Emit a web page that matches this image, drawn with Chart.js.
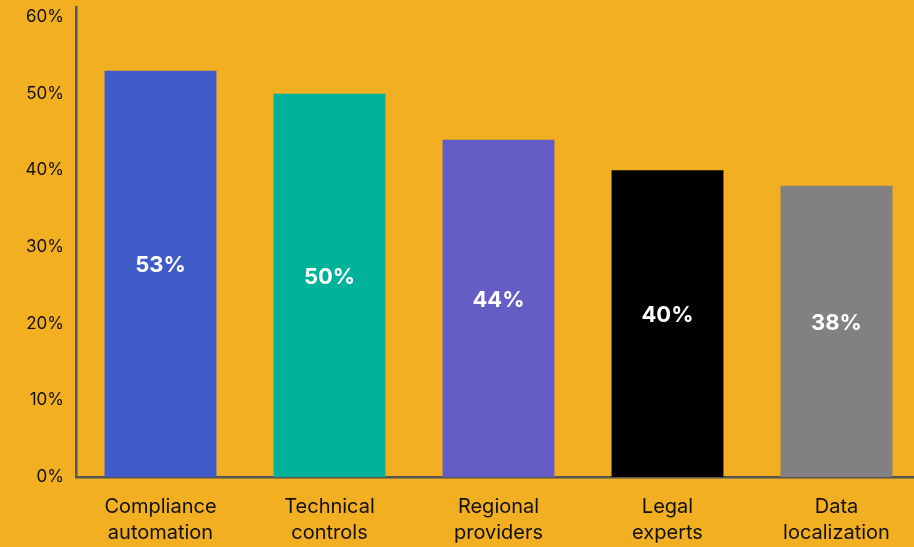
<!DOCTYPE html>
<html>
<head>
<meta charset="utf-8">
<script src="https://cdn.jsdelivr.net/npm/chart.js@4"></script>
<style>
  html, body { margin: 0; padding: 0; background: #F2AF22; overflow: hidden; }
  #wrap { width: 914px; height: 547px; overflow: hidden; }
</style>
</head>
<body>
<div id="wrap"><canvas id="channelChart" width="930" height="547"></canvas></div>
<script>
const categories = [
  ["Compliance", "automation"],
  ["Technical", "controls"],
  ["Regional", "providers"],
  ["Legal", "experts"],
  ["Data", "localization"]
];
const shares = [53, 50, 44, 40, 38];
const barColors = ["#405CC8", "#00B29A", "#655DC6", "#000000", "#818181"];
const yTicks = [0, 10, 20, 30, 40, 50, 60];

const fontFamily = "Inter, 'Noto Sans', sans-serif";

// writes the percentage in the middle of each bar
const barValueLabels = {
  id: "barValueLabels",
  afterDatasetsDraw(chart) {
    const ctx = chart.ctx;
    const meta = chart.getDatasetMeta(0);
    ctx.save();
    ctx.fillStyle = "#ffffff";
    ctx.font = "bold 22px " + fontFamily;
    ctx.textAlign = "center";
    ctx.textBaseline = "middle";
    meta.data.forEach((bar, i) => {
      const mid = (bar.y + bar.base) / 2;
      ctx.fillText(shares[i] + "%", bar.x, mid - 8);
    });
    ctx.restore();
  }
};

const ctx = document.getElementById("channelChart").getContext("2d");
new Chart(ctx, {
  type: "bar",
  data: {
    labels: categories,
    datasets: [
      {
        data: shares,
        backgroundColor: barColors,
        borderWidth: 0,
        barPercentage: 0.662,
        categoryPercentage: 1.0
      }
    ]
  },
  options: {
    responsive: false,
    animation: false,
    devicePixelRatio: 1,
    layout: { padding: { top: 7, right: 9, left: 0, bottom: 0 } },
    plugins: {
      legend: { display: false },
      tooltip: { enabled: false }
    },
    scales: {
      x: {
        grid: { display: false, drawTicks: false },
        border: { display: true, color: "#555555", width: 2.5 },
        ticks: {
          color: "#111111",
          font: { family: fontFamily, size: 20, lineHeight: 1.3 },
          padding: 17,
          maxRotation: 0,
          autoSkip: false
        },
        afterFit(scale) { scale.height = 70; }
      },
      y: {
        min: 0,
        max: 61.3,
        grid: { display: false, drawTicks: false },
        border: { display: true, color: "#555555", width: 2.5 },
        afterBuildTicks(scale) {
          scale.ticks = yTicks.map(v => ({ value: v }));
        },
        ticks: {
          color: "#111111",
          font: { family: fontFamily, size: 17 },
          padding: 12,
          callback: v => v + "%"
        },
        afterFit(scale) {
          scale.width = 76;
          scale.paddingTop = 0;
          scale.paddingBottom = 0;
        }
      }
    }
  },
  plugins: [barValueLabels]
});
</script>
</body>
</html>
